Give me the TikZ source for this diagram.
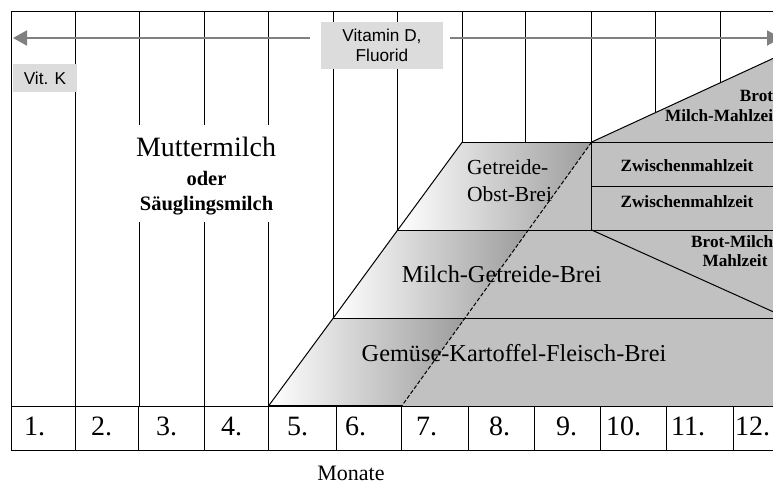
\documentclass[tikz,border=0pt]{standalone}
\usepackage{fontspec}
\setmainfont{Liberation Serif}
\newfontfamily\labelsans{Liberation Sans}
\usetikzlibrary{arrows.meta}
\definecolor{bandgray}{HTML}{C1C1C1}
\definecolor{rampdark}{HTML}{9C9C9C}
\definecolor{tagfill}{HTML}{DCDCDC}
\definecolor{arrowgray}{HTML}{808080}
\begin{document}
\begin{tikzpicture}[x=1pt,y=-1pt,
  gridline/.style={line width=1pt, black},
  outline/.style={line width=1pt, black},
  flatfill/.style={fill=bandgray},
  rampfill/.style={left color=white, right color=rampdark},
  tag/.style={fill=tagfill, inner sep=0pt, font=\labelsans\fontsize{17.2}{20}\selectfont, align=center},
  vitarrow/.style={line width=2pt, arrowgray, -{Triangle[length=14pt,width=15pt]}},
  bigserif/.style={inner sep=0pt, font=\fontsize{24.3}{26}\selectfont},
  midserif/.style={inner sep=0pt, font=\fontsize{21.5}{24}\selectfont},
  boldlabel/.style={inner sep=0pt, font=\bfseries\fontsize{17.2}{20}\selectfont},
  milkbold/.style={inner sep=0pt, anchor=base, font=\bfseries\fontsize{20.5}{22}\selectfont},
  monthnum/.style={inner sep=0pt, anchor=base west, font=\fontsize{28}{30}\selectfont}]
\useasboundingbox (0,0) rectangle (773,483);
\clip (0,0) rectangle (773,483);

% upper column lines
\foreach \x in {11,75,139.3,204,268.7,333.3,397.7,462.3,525.7,591.7,655,720}
  \draw[gridline] (\x,11) -- (\x,406);
% month row column lines
\foreach \x in {11,75,138.3,204,268.5,336,401.7,468.3,534,600,666,733.3}
  \draw[gridline] (\x,406) -- (\x,450);

% flat grey area right of the dashed boundary
\fill[flatfill] (591.7,142) -- (800,46) -- (800,406) -- (401.7,406) -- cycle;
% shaded bands left of the dashed boundary
\shade[rampfill] (462.3,142) -- (591.7,142) -- (528.4,230) -- (397.7,230) -- cycle;
\shade[rampfill] (397.7,230) -- (528.4,230) -- (465,318) -- (333.3,318) -- cycle;
\shade[rampfill] (333.3,318) -- (465,318) -- (401.7,406) -- (268.5,406) -- cycle;

% band outlines
\draw[outline] (462.3,142) -- (397.7,230) -- (333.3,318) -- (268.5,406);
\draw[outline] (462.3,142) -- (800,142);
\draw[outline] (591.7,186.5) -- (800,186.5);
\draw[outline] (397.7,230) -- (800,230);
\draw[outline] (333.3,318) -- (800,318);
\draw[outline] (591.7,142) -- (591.7,230);
\draw[outline] (591.7,142) -- (800,46);
\draw[outline] (591.7,230) -- (787,318);
\draw[outline, dash pattern=on 4pt off 2pt] (591.7,142) -- (401.7,406);

% horizontal grid lines
\draw[gridline] (11,11) -- (800,11);
\draw[gridline] (11,406) -- (800,406);
\draw[gridline] (11,450) -- (800,450);
\draw[line width=2pt] (268.5,406) -- (401.7,406);

% vitamin arrows and tags
\coordinate (tipL) at (13,38);
\coordinate (tipR) at (781,38);
\node[tag, minimum width=122.6pt, minimum height=47.6pt] (vitd) at (382,45.5) {Vitamin D,\\Fluorid};
\node[tag, minimum width=64pt, minimum height=28pt] (vitk) at (45,78) {Vit. K};
\draw[vitarrow, shorten <=10.7pt] (vitd.west |- tipL) -- (tipL);
\draw[vitarrow, shorten <=6.7pt] (vitd.east |- tipR) -- (tipR);

% milk feeding, on a white ground over the column lines
\node[fill=white, inner sep=0pt, minimum width=148pt, minimum height=97pt] (milkbg) at (207,173.5) {};
\node[inner sep=0pt, anchor=base, font=\fontsize{28}{30}\selectfont] (mm) at (206,156.7) {Muttermilch};
\node[milkbold] (oder) at (206.5,185) {oder};
\node[milkbold] (sgl) at (206.5,210.7) {Säuglingsmilch};

% band labels
\node[midserif, anchor=base west] (gob1) at (467,174.3) {Getreide-};
\node[midserif, anchor=base west] (gob2) at (467,201) {Obst-Brei};
\node[bigserif, anchor=base] (mgb) at (501.7,282) {Milch-Getreide-Brei};
\node[bigserif, anchor=base] (gkf) at (514,361.7) {Gemüse-Kartoffel-Fleisch-Brei};
\node[boldlabel, anchor=base] (zw1) at (687,171.7) {Zwischenmahlzeit};
\node[boldlabel, anchor=base] (zw2) at (687,207.3) {Zwischenmahlzeit};
\node[boldlabel, anchor=base east] (bm1) at (779,101.7) {Brot-};
\node[boldlabel, anchor=base east] (bm2) at (779,121.7) {Milch-Mahlzeit};
\node[boldlabel, anchor=base] (bm3) at (735,247.3) {Brot-Milch-};
\node[boldlabel, anchor=base] (bm4) at (735,266.7) {Mahlzeit};

% month numbers
\foreach \x/\n [count=\i] in {24/1.,91/2.,156/3.,221/4.,287/5.,345/6.,416/7.,489/8.,556/9.,606/10.,671/11.,735/12.}
  \node[monthnum] (m\i) at (\x,435) {\n};
\node[inner sep=0pt, anchor=base, font=\fontsize{22}{24}\selectfont] (monate) at (351,480) {Monate};
\end{tikzpicture}
\end{document}
